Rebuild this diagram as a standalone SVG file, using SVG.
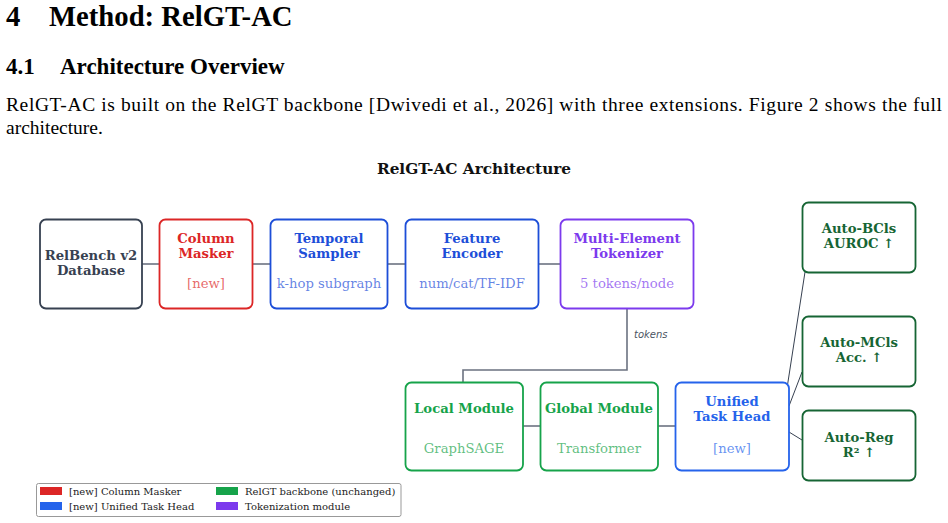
<svg xmlns="http://www.w3.org/2000/svg" width="948" height="523" viewBox="0 0 948 523">
<style>
.doc{font-family:"Liberation Serif","Times New Roman",serif;fill:#000}
.h1{font-size:28.7px;font-weight:bold}
.h2{font-size:23px;font-weight:bold}
.body{font-size:19.5px}
.title{font-family:"DejaVu Serif",serif;font-size:15.3px;font-weight:bold;fill:#111}
.box{fill:#fff;stroke-width:1.8}
.lb{font-family:"DejaVu Serif",serif;font-size:13.2px;font-weight:bold;text-anchor:middle}
.sub{font-family:"DejaVu Serif",serif;font-size:13.2px;text-anchor:middle;fill-opacity:0.7}
.conn{fill:none;stroke:#6b7280;stroke-width:1.6}
.thin{fill:none;stroke:#374151;stroke-width:1}
.elab{font-family:"DejaVu Sans",sans-serif;font-size:10px;font-style:italic;fill:#4b5563}
.leg{font-family:"DejaVu Serif",serif;font-size:10px;fill:#222}
</style>
<rect width="948" height="523" fill="#fff"/>
<text class="doc h1" x="6" y="26">4</text>
<text class="doc h1" x="49" y="26">Method: RelGT-AC</text>
<text class="doc h2" x="6" y="74">4.1</text>
<text class="doc h2" x="60" y="74">Architecture Overview</text>
<text class="doc body" x="6" y="111" textLength="936" lengthAdjust="spacing">RelGT-AC is built on the RelGT backbone [Dwivedi et al., 2026] with three extensions.  Figure 2 shows the full</text>
<text class="doc body" x="6" y="134">architecture.</text>
<text class="title" x="474" y="174" text-anchor="middle">RelGT-AC Architecture</text>

<g id="connectors">
<line class="conn" x1="142" y1="264" x2="159" y2="264"/>
<line class="conn" x1="253" y1="264" x2="270" y2="264"/>
<line class="conn" x1="388" y1="264" x2="405" y2="264"/>
<line class="conn" x1="538" y1="264" x2="560" y2="264"/>
<polyline class="conn" points="627,308 627,370 463,370 463,382"/>
<text class="elab" x="634" y="338">tokens</text>
<line class="conn" x1="523" y1="426" x2="540" y2="426"/>
<line class="conn" x1="658" y1="426" x2="675" y2="426"/>
<line class="thin" x1="787.5" y1="385" x2="805" y2="272"/>
<line class="thin" x1="789" y1="406" x2="802" y2="372"/>
<line class="thin" x1="789" y1="432" x2="802" y2="440"/>
</g>

<g id="relbench">
<rect class="box" x="40" y="219.5" width="102" height="89" rx="6" stroke="#374151"/>
<text class="lb" x="91" y="260" fill="#374151">RelBench v2</text>
<text class="lb" x="91" y="275" fill="#374151">Database</text>
</g>
<g id="column-masker">
<rect class="box" x="159.5" y="219.5" width="93" height="89" rx="6" stroke="#dc2626"/>
<text class="lb" x="206" y="243" fill="#dc2626">Column</text>
<text class="lb" x="206" y="258" fill="#dc2626">Masker</text>
<text class="sub" x="206" y="288" fill="#dc2626">[new]</text>
</g>
<g id="temporal-sampler">
<rect class="box" x="270.5" y="219.5" width="117" height="89" rx="6" stroke="#1d4ed8"/>
<text class="lb" x="329" y="243" fill="#1d4ed8">Temporal</text>
<text class="lb" x="329" y="258" fill="#1d4ed8">Sampler</text>
<text class="sub" x="329" y="288" fill="#1d4ed8">k-hop subgraph</text>
</g>
<g id="feature-encoder">
<rect class="box" x="405.5" y="219.5" width="133" height="89" rx="6" stroke="#1d4ed8"/>
<text class="lb" x="472" y="243" fill="#1d4ed8">Feature</text>
<text class="lb" x="472" y="258" fill="#1d4ed8">Encoder</text>
<text class="sub" x="472" y="288" fill="#1d4ed8">num/cat/TF-IDF</text>
</g>
<g id="tokenizer">
<rect class="box" x="560.5" y="219.5" width="133" height="89" rx="6" stroke="#7c3aed"/>
<text class="lb" x="627" y="243" fill="#7c3aed">Multi-Element</text>
<text class="lb" x="627" y="258" fill="#7c3aed">Tokenizer</text>
<text class="sub" x="627" y="288" fill="#7c3aed">5 tokens/node</text>
</g>
<g id="local-module">
<rect class="box" x="405.5" y="382.5" width="117.5" height="88" rx="6" stroke="#16a34a"/>
<text class="lb" x="464" y="413" fill="#16a34a">Local Module</text>
<text class="sub" x="464" y="453" fill="#16a34a">GraphSAGE</text>
</g>
<g id="global-module">
<rect class="box" x="540.5" y="382.5" width="117.5" height="88" rx="6" stroke="#16a34a"/>
<text class="lb" x="599" y="413" fill="#16a34a">Global Module</text>
<text class="sub" x="599" y="453" fill="#16a34a">Transformer</text>
</g>
<g id="unified-task-head">
<rect class="box" x="675.5" y="382.5" width="113.5" height="88" rx="6" stroke="#2563eb"/>
<text class="lb" x="732" y="406" fill="#2563eb">Unified</text>
<text class="lb" x="732" y="421" fill="#2563eb">Task Head</text>
<text class="sub" x="732" y="453" fill="#2563eb">[new]</text>
</g>
<g id="auto-bcls">
<rect class="box" x="802.5" y="202.5" width="113" height="70" rx="6" stroke="#166534"/>
<text class="lb" x="859" y="233" fill="#166534">Auto-BCls</text>
<text class="lb" x="859" y="248" fill="#166534">AUROC ↑</text>
</g>
<g id="auto-mcls">
<rect class="box" x="802.5" y="316.5" width="113" height="70" rx="6" stroke="#166534"/>
<text class="lb" x="859" y="347" fill="#166534">Auto-MCls</text>
<text class="lb" x="859" y="362" fill="#166534">Acc. ↑</text>
</g>
<g id="auto-reg">
<rect class="box" x="802.5" y="410.5" width="113" height="70" rx="6" stroke="#166534"/>
<text class="lb" x="859" y="442" fill="#166534">Auto-Reg</text>
<text class="lb" x="859" y="457" fill="#166534">R² ↑</text>
</g>

<g id="legend">
<rect x="36.5" y="483.5" width="364.5" height="33" rx="2" fill="#fff" stroke="#999" stroke-width="1"/>
<rect x="40" y="487" width="22" height="8" fill="#dc2626"/>
<text class="leg" x="69" y="495">[new] Column Masker</text>
<rect x="40" y="502" width="22" height="8" fill="#2563eb"/>
<text class="leg" x="69" y="510">[new] Unified Task Head</text>
<rect x="216" y="487" width="22" height="8" fill="#16a34a"/>
<text class="leg" x="245" y="495">RelGT backbone (unchanged)</text>
<rect x="216" y="502" width="22" height="8" fill="#7c3aed"/>
<text class="leg" x="245" y="510">Tokenization module</text>
</g>
</svg>
